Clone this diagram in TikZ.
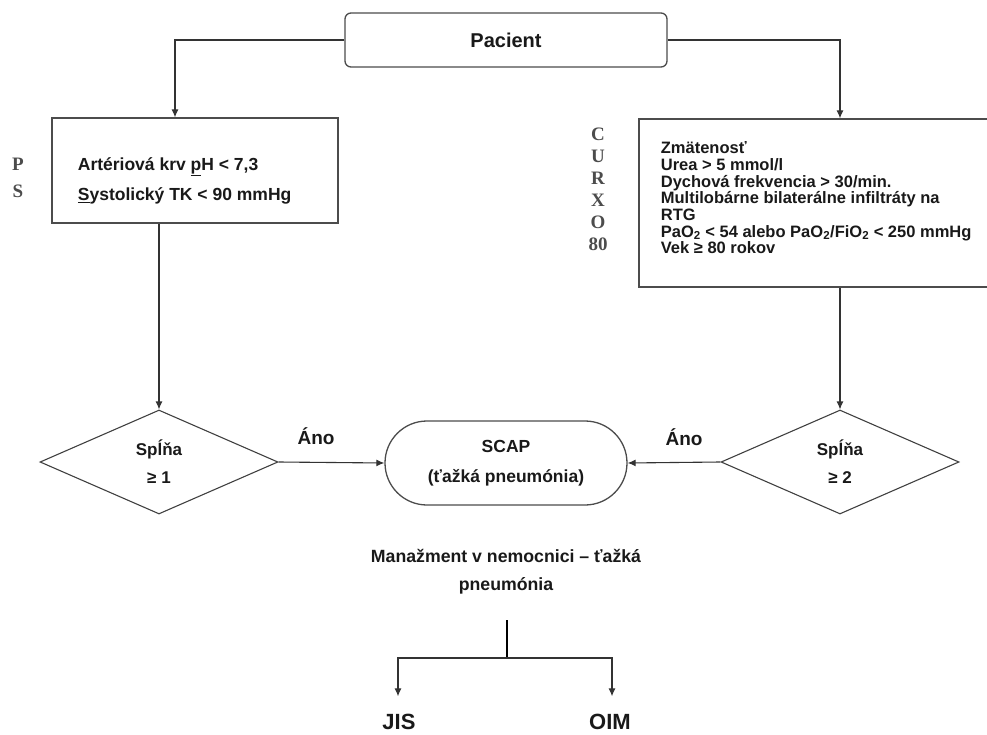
\documentclass[tikz,border=0pt]{standalone}
\usepackage{fontspec}
\setmainfont{Liberation Sans}
\newfontfamily\sidefont{Liberation Serif}
\usetikzlibrary{shapes,arrows.meta,positioning}

\begin{document}
\begin{tikzpicture}[
    x=1pt, y=-1pt,
    line width=1.1pt,
    every node/.style={font=\fontsize{17}{20}\selectfont\bfseries, text=black!90},
    box/.style={rectangle, draw=black!70, line width=1.3pt, inner sep=0pt},
    crit/.style={diamond, draw=black!75, line width=1.1pt, inner sep=0pt, minimum width=238pt, minimum height=104pt, align=center, font=\fontsize{17}{28}\selectfont\bfseries},
    side/.style={font=\sidefont\fontsize{19}{22}\selectfont\bfseries, text=black!70, align=center},
    arr/.style={draw=black!80, -{Latex[length=8pt,width=7pt]}},
]
\useasboundingbox (0,0) rectangle (987,735);

\node[box, rounded corners=6pt, minimum width=322pt, minimum height=54pt, font=\fontsize{20}{22}\selectfont\bfseries] (pacient) at (506,40) {Pacient};

\node[box, minimum width=286pt, minimum height=105pt] (ps) at (195,170.5) {};
\node[anchor=west, align=left, font=\fontsize{17.5}{30}\selectfont\bfseries] (pstext) at (74,181) {Artériová krv \underline{p}H < 7,3\\\underline{S}ystolický TK < 90 mmHg};
\node[side, font=\sidefont\fontsize{19}{27}\selectfont\bfseries] (pslet) at (18,178) {P\\S};

\node[box, minimum width=354pt, minimum height=168pt] (curb) at (816,203) {};
\node[anchor=west, align=left, font=\fontsize{16.5}{16.7}\selectfont\bfseries] (curbtext) at (657,198) {Zmätenosť\\Urea > 5 mmol/l\\Dychová frekvencia > 30/min.\\Multilobárne bilaterálne infiltráty na\\RTG\\PaO\textsubscript{2} < 54 alebo PaO\textsubscript{2}/FiO\textsubscript{2} < 250 mmHg\\Vek ≥ 80 rokov};
\node[side] (curblet) at (598,189) {C\\U\\R\\X\\O\\80};

\node[crit] (crit1) at (159,462) {Spĺňa\\≥ 1};
\node[crit] (crit2) at (840,462) {Spĺňa\\≥ 2};
\node[box, rounded rectangle, minimum width=242pt, minimum height=84pt, align=center, font=\fontsize{17.5}{30}\selectfont\bfseries] (scap) at (506,463) {SCAP\\(ťažká pneumónia)};

\node[font=\fontsize{19}{22}\selectfont\bfseries] (ano1) at (316,436) {Áno};
\node[font=\fontsize{19}{22}\selectfont\bfseries] (ano2) at (684,437) {Áno};

\node[align=center, font=\fontsize{17.7}{28}\selectfont\bfseries] (mgmt) at (506,572) {Manažment v nemocnici – ťažká\\pneumónia};
\coordinate (forktop) at (507,620);
\coordinate (fork) at (507,658);
\node[font=\fontsize{22}{24}\selectfont\bfseries] (jis) at (399,722) {JIS};
\node[font=\fontsize{22}{24}\selectfont\bfseries] (oim) at (610,722) {OIM};

\draw[arr] (pacient.west) -| ([xshift=-20pt]ps.north);
\draw[arr] (pacient.east) -| (curb.north -| crit2.north);
\draw[arr] (ps.south -| crit1.north) -- (crit1.north);
\draw[arr] (curb.south -| crit2.north) -- (crit2.north);
\draw[arr] (crit1.east) -- (scap.west);
\draw[arr] (crit2.west) -- (scap.east);
\draw (forktop) -- (fork);
\draw[arr] (fork) -| ([xshift=-1pt,yshift=14pt]jis.north);
\draw[arr] (fork) -| ([xshift=2pt,yshift=14pt]oim.north);
\end{tikzpicture}
\end{document}
